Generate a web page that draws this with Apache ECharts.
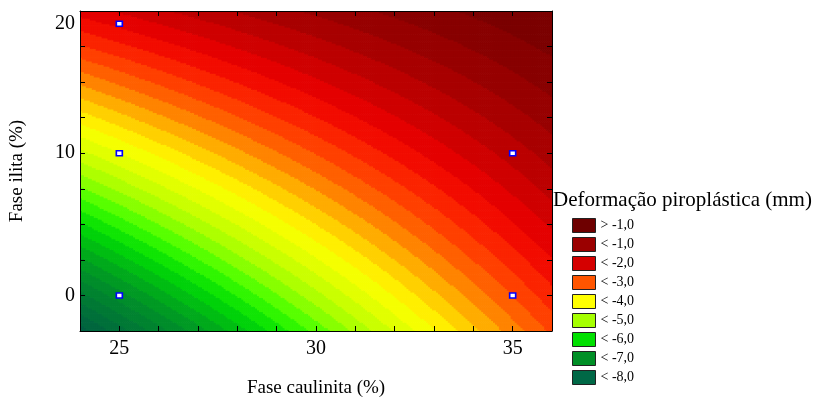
<!DOCTYPE html>
<html><head><meta charset="utf-8">
<script src="https://cdn.jsdelivr.net/npm/echarts@6/dist/echarts.min.js"></script>
<style>html,body{margin:0;padding:0;background:#fff}#c{width:814px;height:403px}</style>
</head><body><div id="c"></div><script>
// ---- data ----
const xRange = [24, 36];
const yRange = [-2.5, 20];
const xLabelValues = [25, 30, 35];
const yLabelValues = [0, 10, 19.1];
const yLabelTexts = ['0', '10', '20'];
const designX = [25, 25, 25, 35, 35];
const designY = [19.1, 10, 0, 10, 0];
// quadratic response surface in s = (x-24)/12, t = (y+2.5)/22.5 : A + B s + C t + D s t + E s^2 + F t^2
const surfaceCoef = [-8.4, 6.2, 7.3, -4.05, -0.5, -0.8];
const levelStops  = [-8.5, -8.0, -7.5, -7.0, -6.5, -6.0, -5.5, -5.0, -4.5, -4.0, -3.5, -3.0, -2.5, -2.0, -1.5, -1.0, -0.5, 0.0];
const levelColors = ['#005a44','#006b3c','#007e33','#009228','#00b218','#00dc05','#40ff00','#a0ff00','#d8ff00','#ffff00','#ffc000','#ff7000','#ff3000','#ee0000','#c40000','#9e0000','#800000','#6a0000'];
const legendTitle = 'Deformação piroplástica (mm)';
const legendLabels = ['> -1,0','< -1,0','< -2,0','< -3,0','< -4,0','< -5,0','< -6,0','< -7,0','< -8,0'];
const legendColors = ['#6e0000','#9b0000','#d50000','#ff5500','#ffff00','#a5ff00','#00e000','#008f26','#006846'];

// ---- build ----
function surface(x, y) {
  const s = (x - xRange[0]) / (xRange[1] - xRange[0]);
  const t = (y - yRange[0]) / (yRange[1] - yRange[0]);
  const c = surfaceCoef;
  return c[0] + c[1]*s + c[2]*t + c[3]*s*t + c[4]*s*s + c[5]*t*t;
}
function hex2rgb(h){return [parseInt(h.substr(1,2),16),parseInt(h.substr(3,2),16),parseInt(h.substr(5,2),16)];}
function colorAt(z){
  const n = levelStops.length;
  if (z <= levelStops[0]) return levelColors[0];
  if (z >= levelStops[n-1]) return levelColors[n-1];
  for (let i=0;i<n-1;i++){
    if (z>=levelStops[i] && z<=levelStops[i+1]){
      const t=(z-levelStops[i])/(levelStops[i+1]-levelStops[i]);
      const a=hex2rgb(levelColors[i]), b=hex2rgb(levelColors[i+1]);
      return 'rgb('+a.map((q,k)=>Math.round(q+(b[k]-q)*t)).join(',')+')';
    }
  }
}
const step = 0.25;
const pieces = [{lt: -9, color: colorAt(-9)}];
for (let lo = -9; lo < 1; lo += step) pieces.push({gte: lo, lt: lo + step, color: colorAt(lo + step/2)});
pieces.push({gte: 1, color: colorAt(1)});

const dx = 0.05, dy = 0.125;
const cells = [];
const nx = Math.round((xRange[1]-xRange[0])/dx), ny = Math.round((yRange[1]-yRange[0])/dy);
for (let i=0;i<nx;i++) for (let j=0;j<ny;j++){
  const x = xRange[0] + (i+0.5)*dx, y = yRange[0] + (j+0.5)*dy;
  cells.push([x, y, surface(x, y)]);
}

const FONT = '"Liberation Serif","Times New Roman",serif';
const chart = echarts.init(document.getElementById('c'), null, {renderer:'canvas'});
const axisLine = {show:true, onZero:false, lineStyle:{color:'#000', width:1}};
const tick = {show:true, inside:true, length:5, lineStyle:{color:'#000'}};
const series = [{
  type:'custom', xAxisIndex:0, yAxisIndex:0, data: cells, encode:{x:0, y:1}, z:1,
  silent:true, animation:false, progressive:0, clip:true,
  renderItem(params, api){
    const x = api.value(0), y = api.value(1);
    const p0 = api.coord([x - dx/2, y + dy/2]);
    const p1 = api.coord([x + dx/2, y - dy/2]);
    return {type:'rect', shape:{x:p0[0], y:p0[1], width:p1[0]-p0[0]+0.7, height:p1[1]-p0[1]+0.7},
            style:{fill: api.visual('color')}};
  }
},{
  type:'scatter', xAxisIndex:0, yAxisIndex:0, z:6, silent:true, animation:false,
  data: designX.map((x,i)=>[x, designY[i]]),
  symbol:'rect', symbolSize:[6,5],
  itemStyle:{color:'#ffffff', borderColor:'#0000ff', borderWidth:1.5, opacity:1}
}];
legendLabels.forEach((n,i)=>series.push({type:'scatter', name:n, data:[], itemStyle:{color:legendColors[i], opacity:1}}));

chart.setOption({
  animation:false,
  backgroundColor:'#fff',
  title:{text:legendTitle, left:553, top:190, padding:0,
         textStyle:{fontFamily:FONT, fontSize:21, fontWeight:'normal', color:'#000'}},
  legend:{orient:'vertical', left:567, top:213, itemWidth:23, itemHeight:14, itemGap:4,
          icon:'rect', selectedMode:false, data: legendLabels,
          itemStyle:{borderColor:'#222', borderWidth:1, opacity:1},
          textStyle:{fontFamily:FONT, fontSize:14, color:'#000'}},
  grid:{left:75, top:11, width:477, height:330},
  visualMap:{type:'piecewise', show:false, dimension:2, seriesIndex:0, pieces: pieces},
  xAxis:[{type:'value', min:xRange[0], max:xRange[1], interval:1, position:'bottom', z:5,
          axisLine, axisTick:tick, splitLine:{show:false},
          axisLabel:{margin:8, fontFamily:FONT, fontSize:20, color:'#000',
                     formatter:v=>xLabelValues.includes(v)?String(v):''},
          name:'Fase caulinita (%)', nameLocation:'middle', nameGap:48,
          nameTextStyle:{fontFamily:FONT, fontSize:19, color:'#000'}},
         {type:'value', min:xRange[0], max:xRange[1], interval:1, position:'top', z:5,
          axisLine, axisTick:tick, axisLabel:{show:false}, splitLine:{show:false}}],
  yAxis:[{type:'value', min:yRange[0], max:yRange[1], interval:2.5, position:'left', z:5,
          axisLine, axisTick:tick, splitLine:{show:false},
          axisLabel:{margin:5, fontFamily:FONT, fontSize:20, color:'#000',
                     customValues:yLabelValues,
                     formatter:v=>{const k=yLabelValues.indexOf(v); return k>=0?yLabelTexts[k]:'';}},
          name:'Fase ilita (%)', nameLocation:'middle', nameGap:53, nameRotate:90,
          nameTextStyle:{fontFamily:FONT, fontSize:19, color:'#000'}},
         {type:'value', min:yRange[0], max:yRange[1], interval:2.5, position:'right', z:5,
          axisLine, axisTick:tick, axisLabel:{show:false}, splitLine:{show:false}}],
  series
});
</script></body></html>
